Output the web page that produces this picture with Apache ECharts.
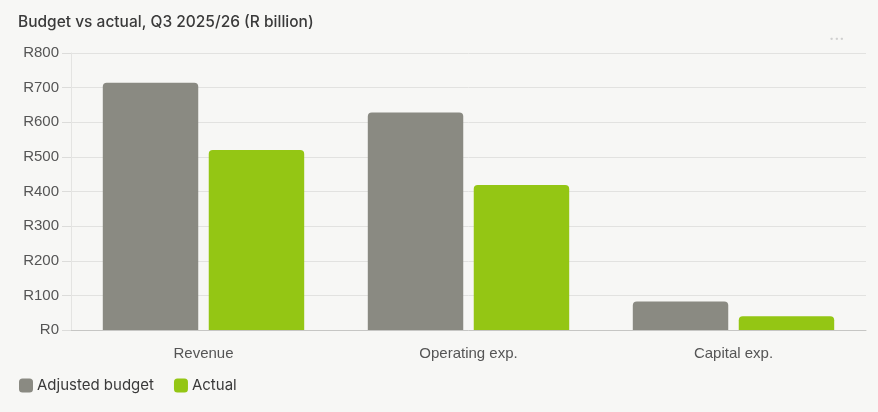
<!DOCTYPE html>
<html>
<head>
<meta charset="utf-8">
<script src="https://cdn.jsdelivr.net/npm/echarts@6/dist/echarts.min.js"></script>
<style>
  html, body { margin: 0; padding: 0; background: #f7f7f5; }
  #chart { width: 878px; height: 412px; }
</style>
</head>
<body>
<div id="chart"></div>
<script>
// categories and values (R billion)
const categories = ["Revenue", "Operating exp.", "Capital exp."];
const budgetValues = [714, 628, 82];
const actualValues = [520, 419, 40];
const yTicks = [0, 100, 200, 300, 400, 500, 600, 700, 800];

const chart = echarts.init(document.getElementById("chart"));
chart.setOption({
  backgroundColor: "#f7f7f5",
  title: {
    text: "Budget vs actual, Q3 2025/26 (R billion)",
    left: 13,
    top: 9,
    textStyle: { fontFamily: "Inter", fontSize: 15.5, fontWeight: 500, color: "#3a3a3a" },
  },
  graphic: [
    // menu dots top right
    { type: "text", left: 829, top: 31, style: { text: "···", fontSize: 18, fill: "#cfcfcf", fontFamily: "Inter" } },
  ],
  legend: {
    left: 14,
    bottom: 14,
    itemWidth: 14,
    itemHeight: 14,
    itemGap: 20,
    icon: "roundRect",
    textStyle: { fontFamily: "Inter", fontSize: 15, color: "#3a3a3a", padding: [0, 0, 0, -1] },
  },
  grid: { left: 71, right: 12, top: 53, bottom: 82 },
  xAxis: {
    type: "category",
    data: categories,
    axisLine: { lineStyle: { color: "#c6c6c4" } },
    axisTick: { show: false },
    axisLabel: { fontFamily: "Liberation Sans", fontSize: 15, color: "#555", margin: 16 },
  },
  yAxis: {
    type: "value",
    min: 0,
    max: 800,
    interval: 100,
    axisLine: { show: true, lineStyle: { color: "#e4e4e2" } },
    axisTick: { show: true, length: 9, lineStyle: { color: "#dcdcda" } },
    splitLine: { lineStyle: { color: "#e2e2e0" } },
    axisLabel: {
      fontFamily: "Liberation Sans",
      fontSize: 15,
      color: "#555",
      margin: 12,
      formatter: (v) => (yTicks.includes(v) ? "R" + v : ""),
    },
  },
  series: [
    {
      name: "Adjusted budget",
      type: "bar",
      data: budgetValues,
      barGap: "11%",
      barCategoryGap: "24%",
      itemStyle: { color: "#8a8a82", borderRadius: [4, 4, 0, 0] },
    },
    {
      name: "Actual",
      type: "bar",
      data: actualValues,
      itemStyle: { color: "#94c614", borderRadius: [4, 4, 0, 0] },
    },
  ],
});
</script>
</body>
</html>
